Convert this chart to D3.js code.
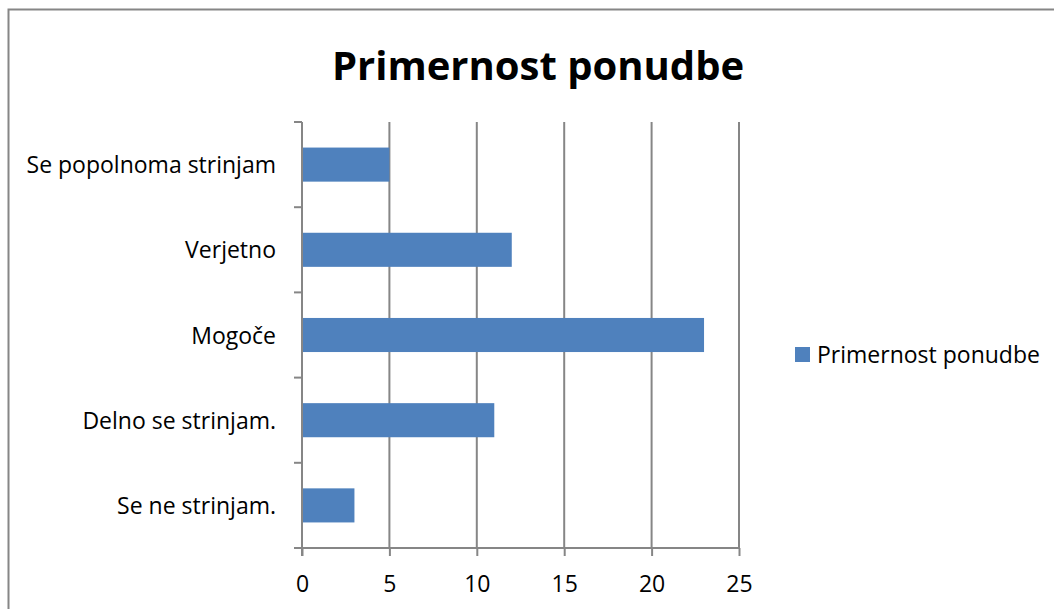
<!DOCTYPE html>
<html><head><meta charset="utf-8">
<script src="https://cdn.jsdelivr.net/npm/d3@7"></script>
<style>body{margin:0;background:#fff;} svg{display:block;font-family:"Open Sans",sans-serif;}</style>
</head><body>
<svg id="chart" width="1054" height="609"></svg>
<script>
const title = "Primernost ponudbe";
const seriesName = "Primernost ponudbe";
const categories = ["Se popolnoma strinjam", "Verjetno", "Mogoče", "Delno se strinjam.", "Se ne strinjam."];
const values = [5, 12, 23, 11, 3];
const xTicks = [0, 5, 10, 15, 20, 25];

const svg = d3.select("#chart");
const plot = {left: 302, right: 739, top: 122, bottom: 548};
const grey = "#868686";
const barColor = "#4f81bd";
const fs = 23;

// frame
svg.append("rect").attr("x", 8.5).attr("y", 9.5).attr("width", 1100).attr("height", 700)
  .attr("fill", "none").attr("stroke", grey).attr("stroke-width", 2);

svg.append("text").attr("x", 538).attr("y", 80).attr("text-anchor", "middle")
  .attr("font-size", 40).attr("font-weight", "bold").attr("fill", "#000").text(title);

const x = d3.scaleLinear().domain([0, 25]).range([plot.left, plot.right]);
const y = d3.scaleBand().domain(categories).range([plot.top, plot.bottom]).paddingInner(0.6).paddingOuter(0.3);
const yb = d3.scaleBand().domain(categories).range([plot.top, plot.bottom]);

// gridlines
svg.append("g").selectAll("line").data(xTicks.slice(1)).join("line")
  .attr("x1", d => x(d)).attr("x2", d => x(d)).attr("y1", plot.top).attr("y2", plot.bottom)
  .attr("stroke", grey).attr("stroke-width", 2);

// bars
svg.append("g").selectAll("rect").data(values).join("rect")
  .attr("x", x(0)).attr("y", (d, i) => y(categories[i]))
  .attr("width", d => x(d) - x(0)).attr("height", y.bandwidth())
  .attr("fill", barColor);

// x axis
const xAxis = d3.axisBottom(x).tickValues(xTicks).tickSize(8).tickPadding(0);
const gx = svg.append("g").attr("transform", `translate(0,${plot.bottom})`).call(xAxis);
gx.select(".domain").attr("stroke", grey).attr("stroke-width", 2).attr("d", `M${plot.left - 8},0H${plot.right}`);
gx.selectAll(".tick line").attr("stroke", grey).attr("stroke-width", 2);
gx.selectAll(".tick text").attr("font-size", fs).attr("fill", "#000").attr("font-family", "Open Sans")
  .attr("y", 44).attr("dy", null);

// y axis: ticks at band boundaries
const gy = svg.append("g");
gy.append("line").attr("x1", plot.left).attr("x2", plot.left).attr("y1", plot.top).attr("y2", plot.bottom + 8)
  .attr("stroke", grey).attr("stroke-width", 2);
const bounds = categories.map(c => yb(c)).concat([plot.bottom]);
gy.selectAll("line.t").data(bounds).join("line").attr("class", "t")
  .attr("x1", plot.left - 8).attr("x2", plot.left).attr("y1", d => d).attr("y2", d => d)
  .attr("stroke", grey).attr("stroke-width", 2);
gy.selectAll("text").data(categories).join("text")
  .attr("x", 276).attr("y", d => yb(d) + yb.bandwidth() / 2 + 8.5)
  .attr("text-anchor", "end").attr("font-size", fs).attr("fill", "#000").text(d => d);

// legend
const lg = svg.append("g");
lg.append("rect").attr("x", 795).attr("y", 347).attr("width", 15).attr("height", 15).attr("fill", barColor);
lg.append("text").attr("x", 817).attr("y", 363).attr("font-size", fs).attr("fill", "#000").text(seriesName);
</script>
</body></html>
